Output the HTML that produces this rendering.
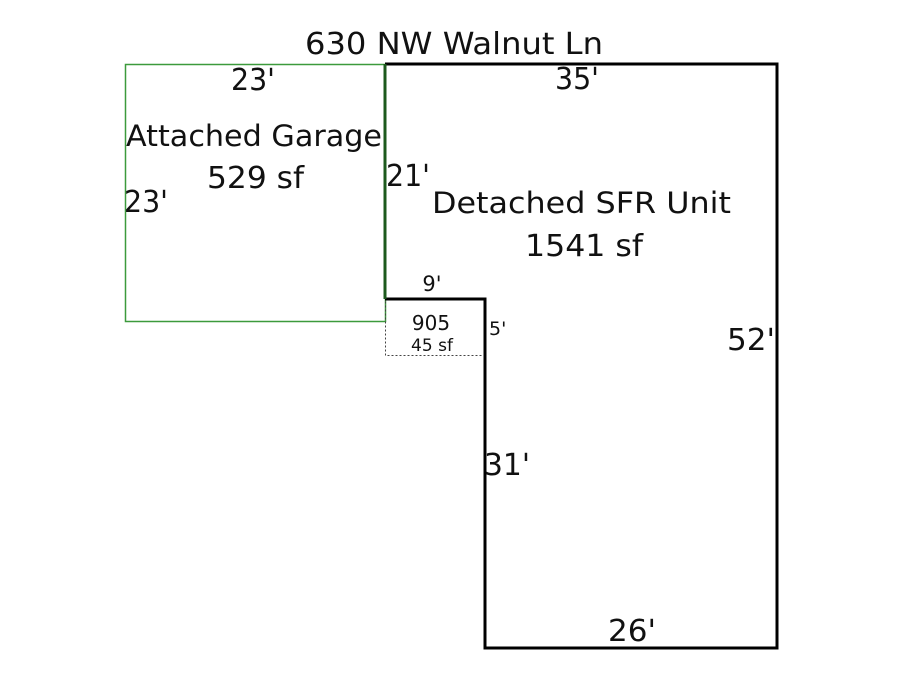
<!DOCTYPE html>
<html><head><style>html,body{margin:0;padding:0;background:#fff}svg{display:block}text{font-family:"DejaVu Sans","Liberation Sans",sans-serif;fill:#111}</style></head>
<body>
<svg width="900" height="675" viewBox="0 0 900 675" xmlns="http://www.w3.org/2000/svg">
<rect x="0" y="0" width="900" height="675" fill="#fff"/>
<rect x="125.5" y="64.5" width="260" height="257" fill="none" stroke="#3c9a3c" stroke-width="1.5"/>
<rect x="385.5" y="299.5" width="100" height="56" fill="none" stroke="#444" stroke-width="1" stroke-dasharray="2,2"/>
<polyline points="385,64 777,64 777,648 485,648 485,299 385,299" fill="none" stroke="#000" stroke-width="3"/>
<line x1="385" y1="64" x2="385" y2="299" stroke="#1d5a1d" stroke-width="3"/>
<text x="305" y="54" font-size="30" textLength="298" lengthAdjust="spacingAndGlyphs">630 NW Walnut Ln</text>
<text x="231" y="90" font-size="30" textLength="44" lengthAdjust="spacingAndGlyphs">23'</text>
<text x="126" y="146" font-size="29" textLength="256" lengthAdjust="spacingAndGlyphs">Attached Garage</text>
<text x="207" y="188" font-size="30" textLength="97" lengthAdjust="spacingAndGlyphs">529 sf</text>
<text x="124" y="212" font-size="30" textLength="44" lengthAdjust="spacingAndGlyphs">23'</text>
<text x="386" y="186" font-size="30" textLength="44" lengthAdjust="spacingAndGlyphs">21'</text>
<text x="555" y="89" font-size="30" textLength="44" lengthAdjust="spacingAndGlyphs">35'</text>
<text x="432" y="213" font-size="29" textLength="299" lengthAdjust="spacingAndGlyphs">Detached SFR Unit</text>
<text x="525" y="256" font-size="30" textLength="118" lengthAdjust="spacingAndGlyphs">1541 sf</text>
<text x="432" y="291" font-size="21" text-anchor="middle">9'</text>
<text x="431" y="330" font-size="20" text-anchor="middle">905</text>
<text x="432" y="351" font-size="17" text-anchor="middle">45 sf</text>
<text x="489" y="335" font-size="19">5'</text>
<text x="727" y="350" font-size="30" textLength="48" lengthAdjust="spacingAndGlyphs">52'</text>
<text x="484" y="475" font-size="30" textLength="46" lengthAdjust="spacingAndGlyphs">31'</text>
<text x="608" y="641" font-size="30" textLength="48" lengthAdjust="spacingAndGlyphs">26'</text>
</svg>
</body></html>
